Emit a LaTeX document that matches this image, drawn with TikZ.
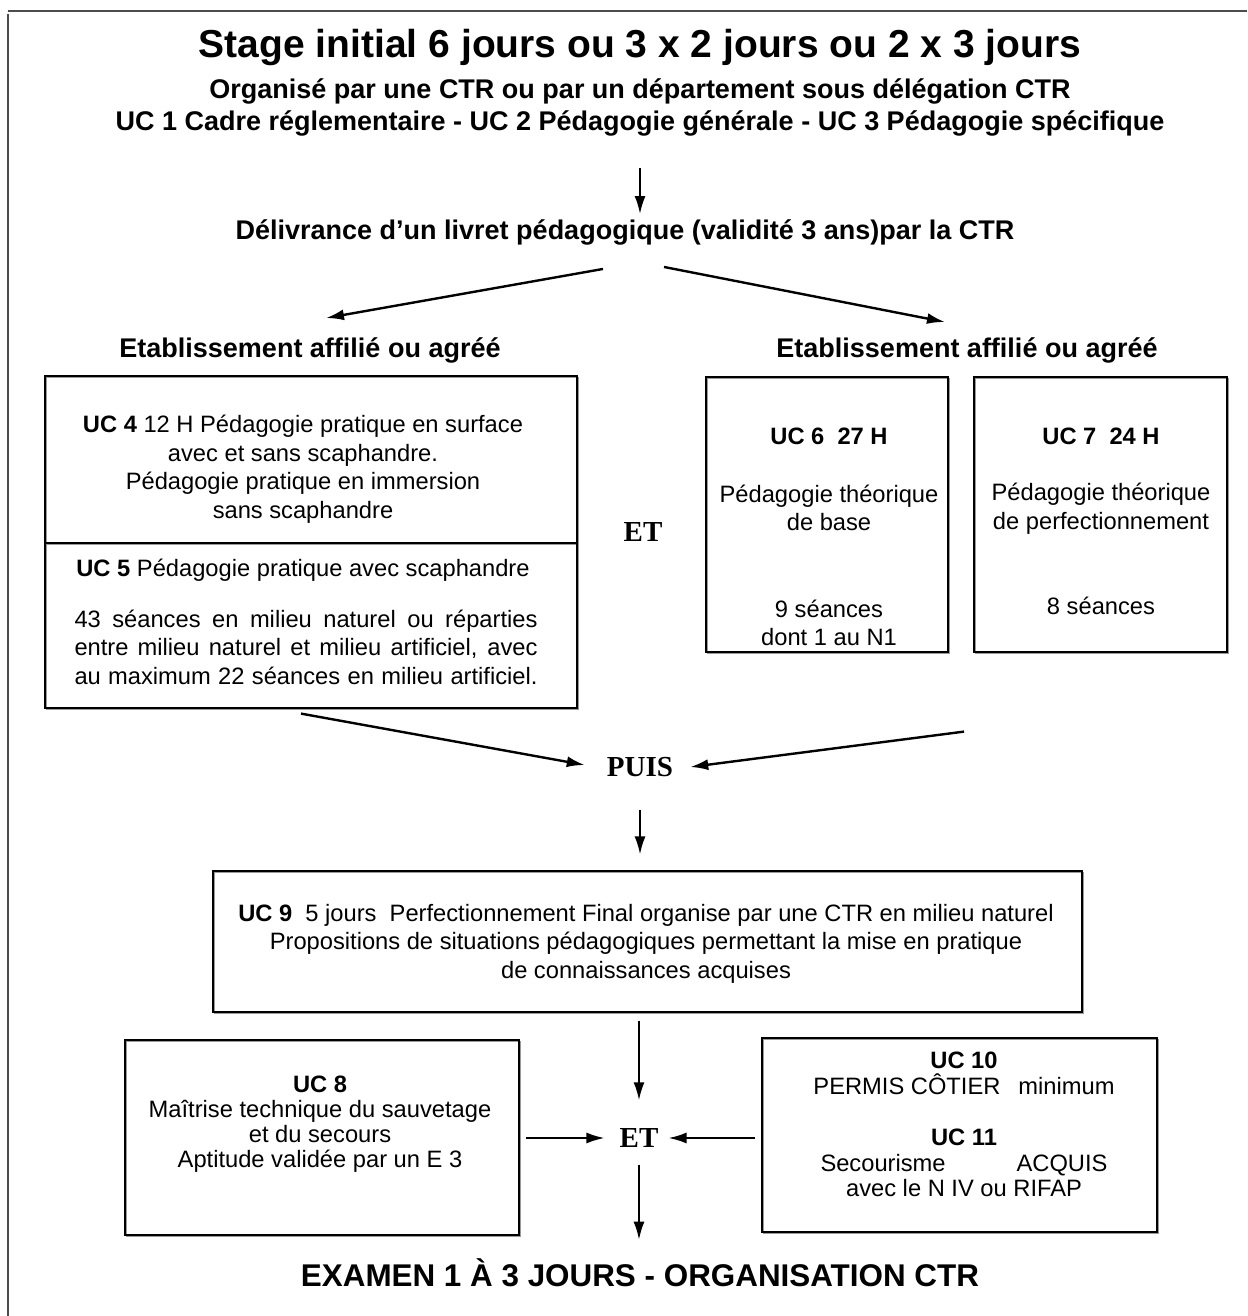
\documentclass[tikz,border=0pt]{standalone}
\usepackage{fontspec}
\setmainfont{Liberation Sans}
\newfontfamily\timesfont{Liberation Serif}
\usepackage{tikz}
\usetikzlibrary{arrows.meta,calc,positioning}
\tikzset{% looks of the chart
	box/.style={draw, line width=1.2pt, inner sep=0pt,
		preaction={draw=black!40, line width=1.2pt, transform canvas={xshift=1.5pt,yshift=-1.5pt}}},
	body/.style={font=\fontsize{23.7}{28.5}\selectfont, align=center, inner sep=0pt},
	head/.style={font=\fontsize{27}{32}\selectfont\bfseries, inner sep=0pt},
	joint/.style={font=\fontsize{29}{29}\selectfont\timesfont\bfseries, inner sep=0pt},
	link/.style={-{Latex[length=18pt,width=11pt]}, line width=2pt},
	frame/.style={draw=black!70, line width=2pt}
}

\begin{document}
\begin{tikzpicture}[x=1pt,y=-1pt]
\useasboundingbox (0,0) rectangle (1247,1316);
\draw[frame] (8,11) -- (1247,11);
\draw[frame] (8,14) -- (8,1316);
% heading
\node[head, font=\fontsize{39}{44}\selectfont\bfseries] (title) at (640,48) {Stage initial 6 jours ou 3 x 2 jours ou 2 x 3 jours};
\node[head] (sub1) at (640,91) {Organisé par une CTR ou par un département sous délégation CTR};
\node[head] (sub2) at (640,123) {UC 1 Cadre réglementaire - UC 2 Pédagogie générale - UC 3 Pédagogie spécifique};
\node[head] (deliv) at (625,232) {Délivrance d'un livret pédagogique (validité 3 ans)par la CTR};
\node[head] (etabL) at (310,350) {Etablissement affilié ou agréé};
\node[head] (etabR) at (967,350) {Etablissement affilié ou agréé};
% boxes
\node[box, minimum width=532, minimum height=167] (uc4b) at (311,459.5) {};
\node[box, minimum width=532, minimum height=165] (uc5b) at (311,625.5) {};
\node[box, minimum width=242, minimum height=275] (uc6b) at (827,514.5) {};
\node[box, minimum width=253, minimum height=275] (uc7b) at (1100.5,514.5) {};
\node[box, minimum width=869, minimum height=141] (uc9b) at (647.5,941.5) {};
\node[box, minimum width=394, minimum height=195] (uc8b) at (322,1137.5) {};
\node[box, minimum width=395, minimum height=194] (uc10b) at (959.5,1135) {};
\coordinate (gap) at ($(uc6b.south east)!.5!(uc7b.south west)$);
% texts of the boxes
\node[body] (uc4t) at (303,469) {\textbf{UC 4} 12 H Pédagogie pratique en surface\\avec et sans scaphandre.\\Pédagogie pratique en immersion\\sans scaphandre};
\node[body] (uc5h) at (303,570) {\textbf{UC 5} Pédagogie pratique avec scaphandre};
\node[body] (uc5t) at (306,647) {\makebox[463pt][s]{43 séances en milieu naturel ou réparties}\\
	\makebox[463pt][s]{entre milieu naturel et milieu artificiel, avec}\\
	\makebox[463pt][s]{au maximum 22 séances en milieu artificiel.}};
\node[body] (uc6t) at (829,537) {\textbf{UC 6\ \ 27 H}\\[29pt]Pédagogie théorique\\de base\\[58pt]9 séances\\dont 1 au N1};
\node[body] (uc7t) at (1101,521.5) {\textbf{UC 7\ \ 24 H}\\[28pt]Pédagogie théorique\\de perfectionnement\\[57pt]8 séances};
\node[body] (uc9t) at (646,943.5) {\textbf{UC 9}\ \ 5 jours\ \ Perfectionnement Final organise par une CTR en milieu naturel\\
	Propositions de situations pédagogiques permettant la mise en pratique\\de connaissances acquises};
\node[body, font=\fontsize{23.7}{25}\selectfont] (uc8t) at (320,1124.5) {\textbf{UC 8}\\Maîtrise technique du sauvetage\\et du secours\\Aptitude validée par un E 3};
\node[body, font=\fontsize{23.7}{25.5}\selectfont] (uc10t) at (964,1124.5) {\textbf{UC 10}\\PERMIS CÔTIER\hspace{18pt}minimum\\[26pt]\textbf{UC 11}\\Secourisme\hspace{71pt}ACQUIS\\avec le N IV ou RIFAP};
% joints
\node[joint] (et1) at (643,532) {ET};
\node[joint] (puis) at (640,767) {PUIS};
\node[joint] (et2) at (639,1138) {ET};
\node[head, font=\fontsize{31.4}{36}\selectfont\bfseries] (exam) at (640,1273) {EXAMEN 1 À 3 JOURS - ORGANISATION CTR};
% arrows
\draw[link, shorten <=32pt, shorten >=5pt] (sub2.south) -- (sub2.south |- deliv.north);
\draw[link, line width=2.4pt] ([xshift=-22pt,yshift=-24pt]deliv.south) -- ([xshift=16pt,yshift=19pt]etabL.north);
\draw[link, line width=2.4pt] ([xshift=39pt,yshift=-22pt]deliv.south) -- ([xshift=-22pt,yshift=15pt]etabR.north);
\draw[link, line width=2.4pt] ([xshift=-10pt,yshift=-5pt]uc5b.south) -- ([xshift=-22pt,yshift=2pt]puis.west);
\draw[link, line width=2.4pt] ([xshift=3pt,yshift=-79pt]gap) -- ([xshift=17pt]puis.east);
\draw[link, shorten <=33pt, shorten >=16pt] (puis.south) -- (puis.south |- uc9b.north);
\draw[link, shorten <=8pt, shorten >=28pt] (et2 |- uc9b.south) -- (et2.north);
\draw[link, shorten <=6pt, shorten >=15pt] (uc8b.east |- et2) -- (et2.west);
\draw[link, shorten <=6pt, shorten >=10pt] (et2 -| uc10b.west) -- (et2.east);
\draw[link, shorten <=17pt, shorten >=19pt] (et2.south) -- (et2.south |- exam.north);
\end{tikzpicture}
\end{document}
